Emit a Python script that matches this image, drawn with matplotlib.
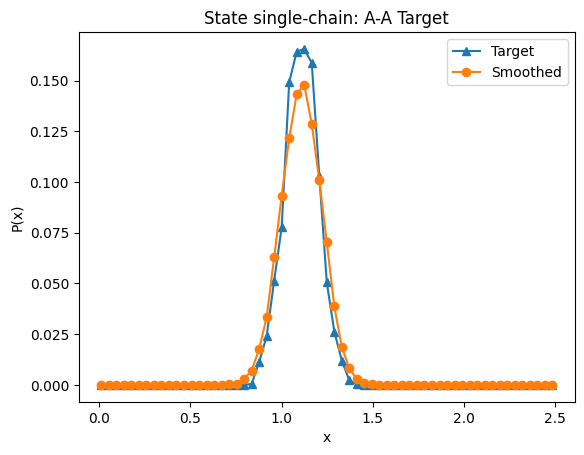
import numpy as np
import matplotlib
matplotlib.use("Agg")
import matplotlib.pyplot as plt

# x grid: 61 evenly spaced sample positions
x_start = 0.0125
x_stop = 2.4825
n_points = 61
x = np.linspace(x_start, x_stop, n_points)

# Target distribution (index 20..34 non-zero)
target_nonzero = [0.0005, 0.0112, 0.0240, 0.0514, 0.0777, 0.1492, 0.1643,
                  0.1656, 0.1587, 0.1032, 0.0506, 0.0263, 0.0120, 0.0022, 0.0003]
target_start = 20

# Smoothed distribution (index 17..36 non-zero)
smoothed_nonzero = [0.0003, 0.0005, 0.0030, 0.0071, 0.0177, 0.0334, 0.0629,
                    0.0933, 0.1216, 0.1434, 0.1480, 0.1286, 0.1010, 0.0703,
                    0.0388, 0.0186, 0.0082, 0.0027, 0.0010, 0.0005]
smoothed_start = 17

target = np.zeros(n_points)
target[target_start:target_start + len(target_nonzero)] = target_nonzero
smoothed = np.zeros(n_points)
smoothed[smoothed_start:smoothed_start + len(smoothed_nonzero)] = smoothed_nonzero

fig, ax = plt.subplots(figsize=(6.4, 4.8), dpi=100)
ax.plot(x, target, marker="^", color="C0", label="Target")
ax.plot(x, smoothed, marker="o", color="C1", label="Smoothed")
ax.set_title("State single-chain: A-A Target")
ax.set_xlabel("x")
ax.set_ylabel("P(x)")
ax.legend(loc="upper right")
fig.savefig("out.png", dpi=100, bbox_inches="tight")
